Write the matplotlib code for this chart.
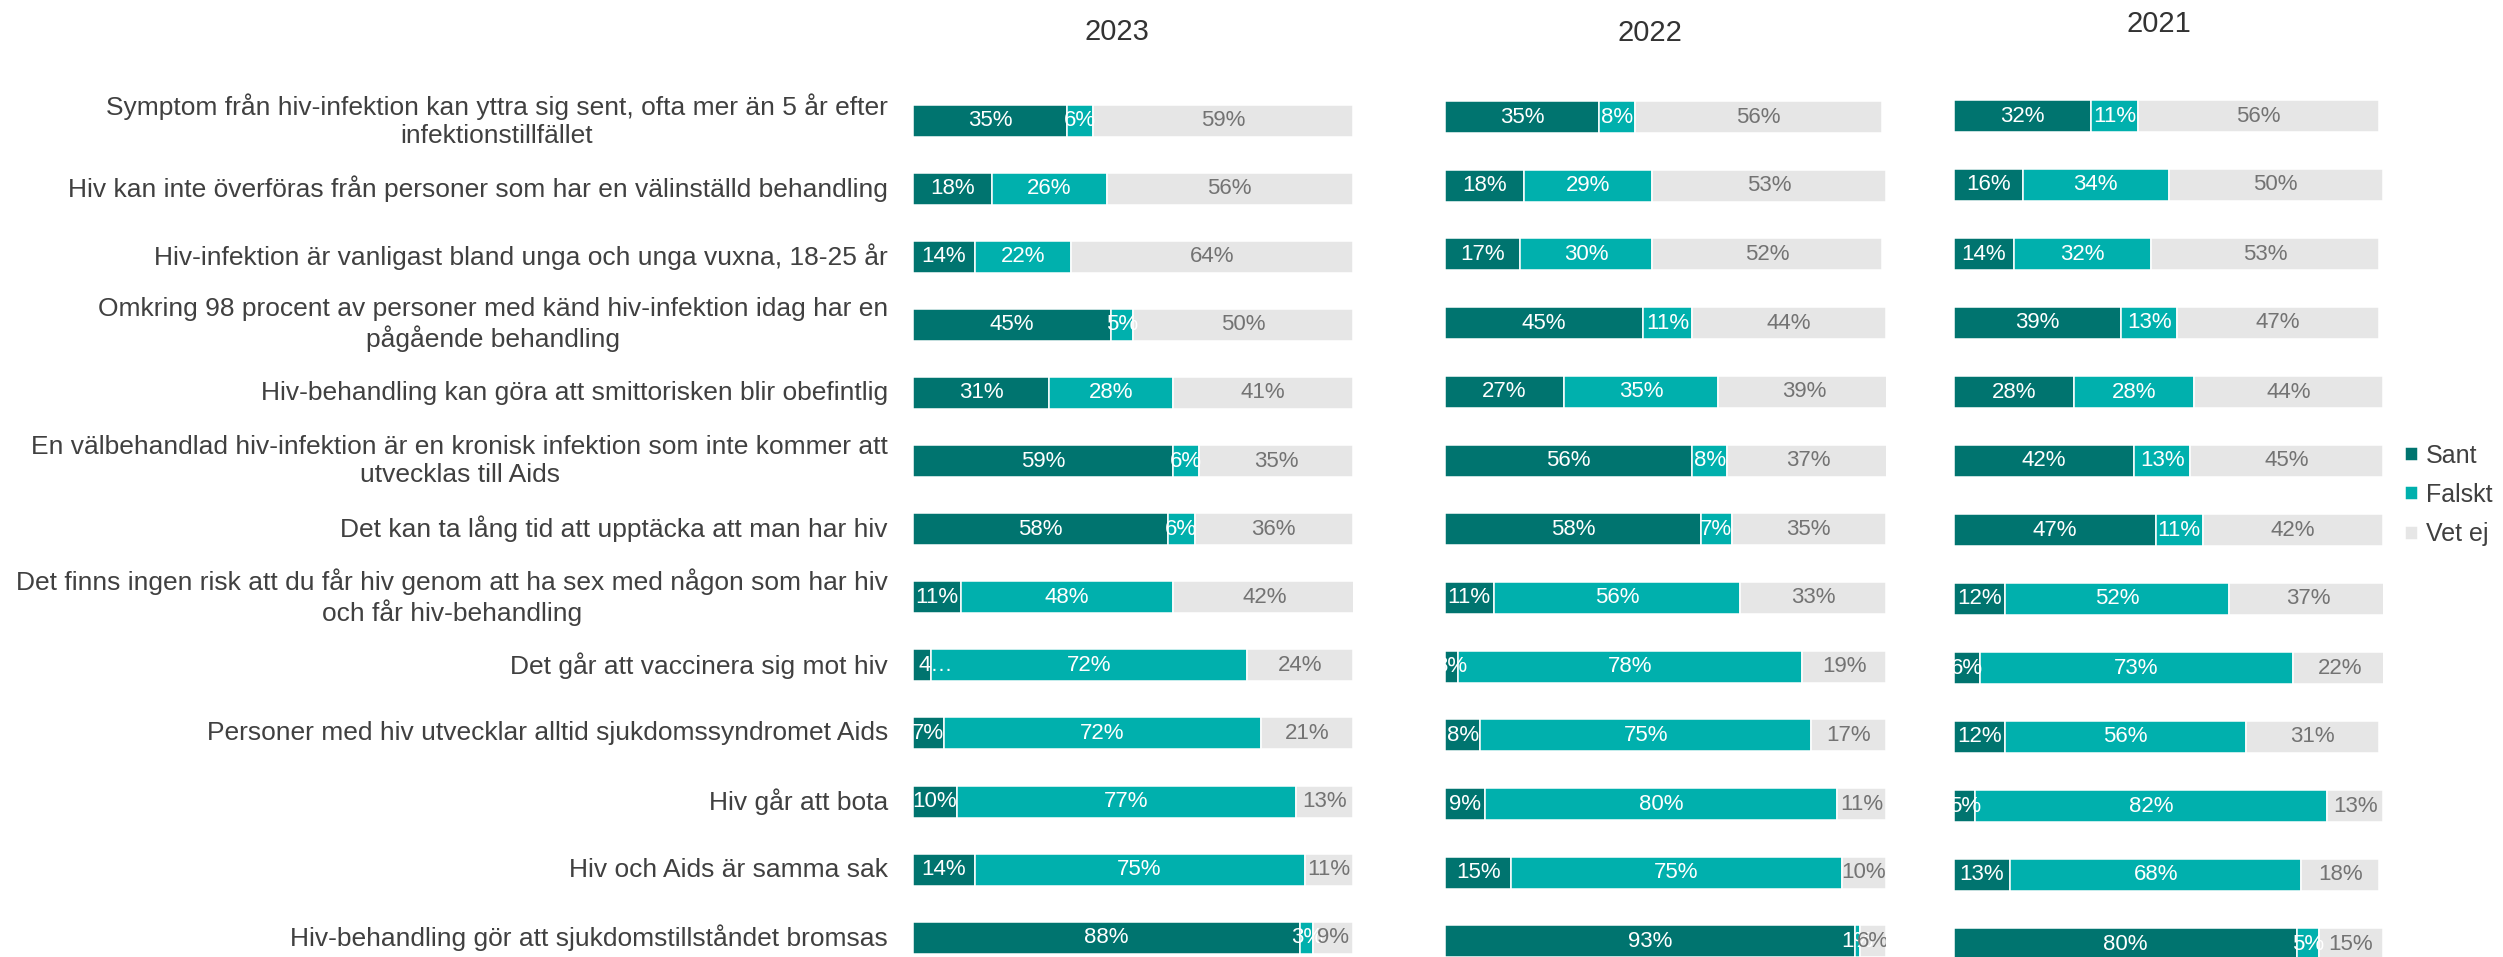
import numpy as np
import matplotlib.pyplot as plt

plt.rcParams['font.family'] = ['Liberation Sans', 'DejaVu Sans']

statements = [
    "Symptom från hiv-infektion kan yttra sig sent, ofta mer än 5 år efter\ninfektionstillfället",
    "Hiv kan inte överföras från personer som har en välinställd behandling",
    "Hiv-infektion är vanligast bland unga och unga vuxna, 18-25 år",
    "Omkring 98 procent av personer med känd hiv-infektion idag har en\npågående behandling",
    "Hiv-behandling kan göra att smittorisken blir obefintlig",
    "En välbehandlad hiv-infektion är en kronisk infektion som inte kommer att\nutvecklas till Aids",
    "Det kan ta lång tid att upptäcka att man har hiv",
    "Det finns ingen risk att du får hiv genom att ha sex med någon som har hiv\noch får hiv-behandling",
    "Det går att vaccinera sig mot hiv",
    "Personer med hiv utvecklar alltid sjukdomssyndromet Aids",
    "Hiv går att bota",
    "Hiv och Aids är samma sak",
    "Hiv-behandling gör att sjukdomstillståndet bromsas",
]

years = ["2023", "2022", "2021"]
answers = ["Sant", "Falskt", "Vet ej"]

sant_2023 = [35, 18, 14, 45, 31, 59, 58, 11, 4, 7, 10, 14, 88]
falskt_2023 = [6, 26, 22, 5, 28, 6, 6, 48, 72, 72, 77, 75, 3]
vetej_2023 = [59, 56, 64, 50, 41, 35, 36, 42, 24, 21, 13, 11, 9]

sant_2022 = [35, 18, 17, 45, 27, 56, 58, 11, 3, 8, 9, 15, 93]
falskt_2022 = [8, 29, 30, 11, 35, 8, 7, 56, 78, 75, 80, 75, 1]
vetej_2022 = [56, 53, 52, 44, 39, 37, 35, 33, 19, 17, 11, 10, 6]

sant_2021 = [32, 16, 14, 39, 28, 42, 47, 12, 6, 12, 5, 13, 80]
falskt_2021 = [11, 34, 32, 13, 28, 13, 11, 52, 73, 56, 82, 68, 5]
vetej_2021 = [56, 50, 53, 47, 44, 45, 42, 37, 22, 31, 13, 18, 15]

data = {
    "2023": (sant_2023, falskt_2023, vetej_2023),
    "2022": (sant_2022, falskt_2022, vetej_2022),
    "2021": (sant_2021, falskt_2021, vetej_2021),
}

colors = ["#00746f", "#00b0ad", "#e6e6e6"]
text_colors = ["white", "white", "#737373"]

W, H = 2503, 957
fig = plt.figure(figsize=(W / 100, H / 100), dpi=100)

# panel geometry in pixels: left, right, centre of first row, row step
panels = {
    "2023": (913, 1353, 120.5, 68.1),
    "2022": (1445, 1886, 117.0, 68.7),
    "2021": (1954, 2383, 116.0, 69.0),
}
title_pos = {"2023": (1117, 32), "2022": (1650, 33), "2021": (2159, 24)}

rows = np.arange(len(statements))
bar_px = 32

for k, year in enumerate(years):
    left, right, row0, step = panels[year]
    ax = fig.add_axes([left / W, 0, (right - left) / W, 1])
    ax.set_xlim(0, 100)
    ax.set_ylim((H - row0) / step, -row0 / step)
    ax.axis("off")

    start = np.zeros(len(statements))
    bars = []
    for j, vals in enumerate(data[year]):
        vals = np.array(vals, dtype=float)
        b = ax.barh(rows, vals, left=start, height=bar_px / step,
                    color=colors[j], edgecolor="white", linewidth=1.1,
                    label=answers[j])
        bars.append(b)
        for i, v in enumerate(vals):
            if year == "2023" and j == 0 and v < 5:
                # label too wide for the segment, cut short
                ax.text(start[i] + 1.2, i, f"{int(v)}…", ha="left",
                        va="center", color=text_colors[j], fontsize=16,
                        clip_on=True)
                continue
            ax.text(start[i] + v / 2, i, f"{int(v)}%", ha="center",
                    va="center", color=text_colors[j], fontsize=16,
                    clip_on=True)
        start += vals

    if k == 0:
        for i, s in enumerate(statements):
            fig.text(888 / W, 1 - (row0 + i * step) / H, s, ha="right",
                     va="center", multialignment="center", fontsize=19,
                     color="#404040", linespacing=1.2)
        handles = bars

    tx, ty = title_pos[year]
    fig.text(tx / W, 1 - ty / H, year, ha="center", va="center",
             fontsize=21, color="#333333")

fig.legend(handles, answers, loc="center left",
           bbox_to_anchor=(2405 / W, 1 - 495 / H), frameon=False,
           fontsize=18, handlelength=0.5, handleheight=0.5,
           handletextpad=0.35, labelspacing=0.62, borderpad=0,
           borderaxespad=0, labelcolor="#404040")

fig.savefig("out.png", dpi=100)
